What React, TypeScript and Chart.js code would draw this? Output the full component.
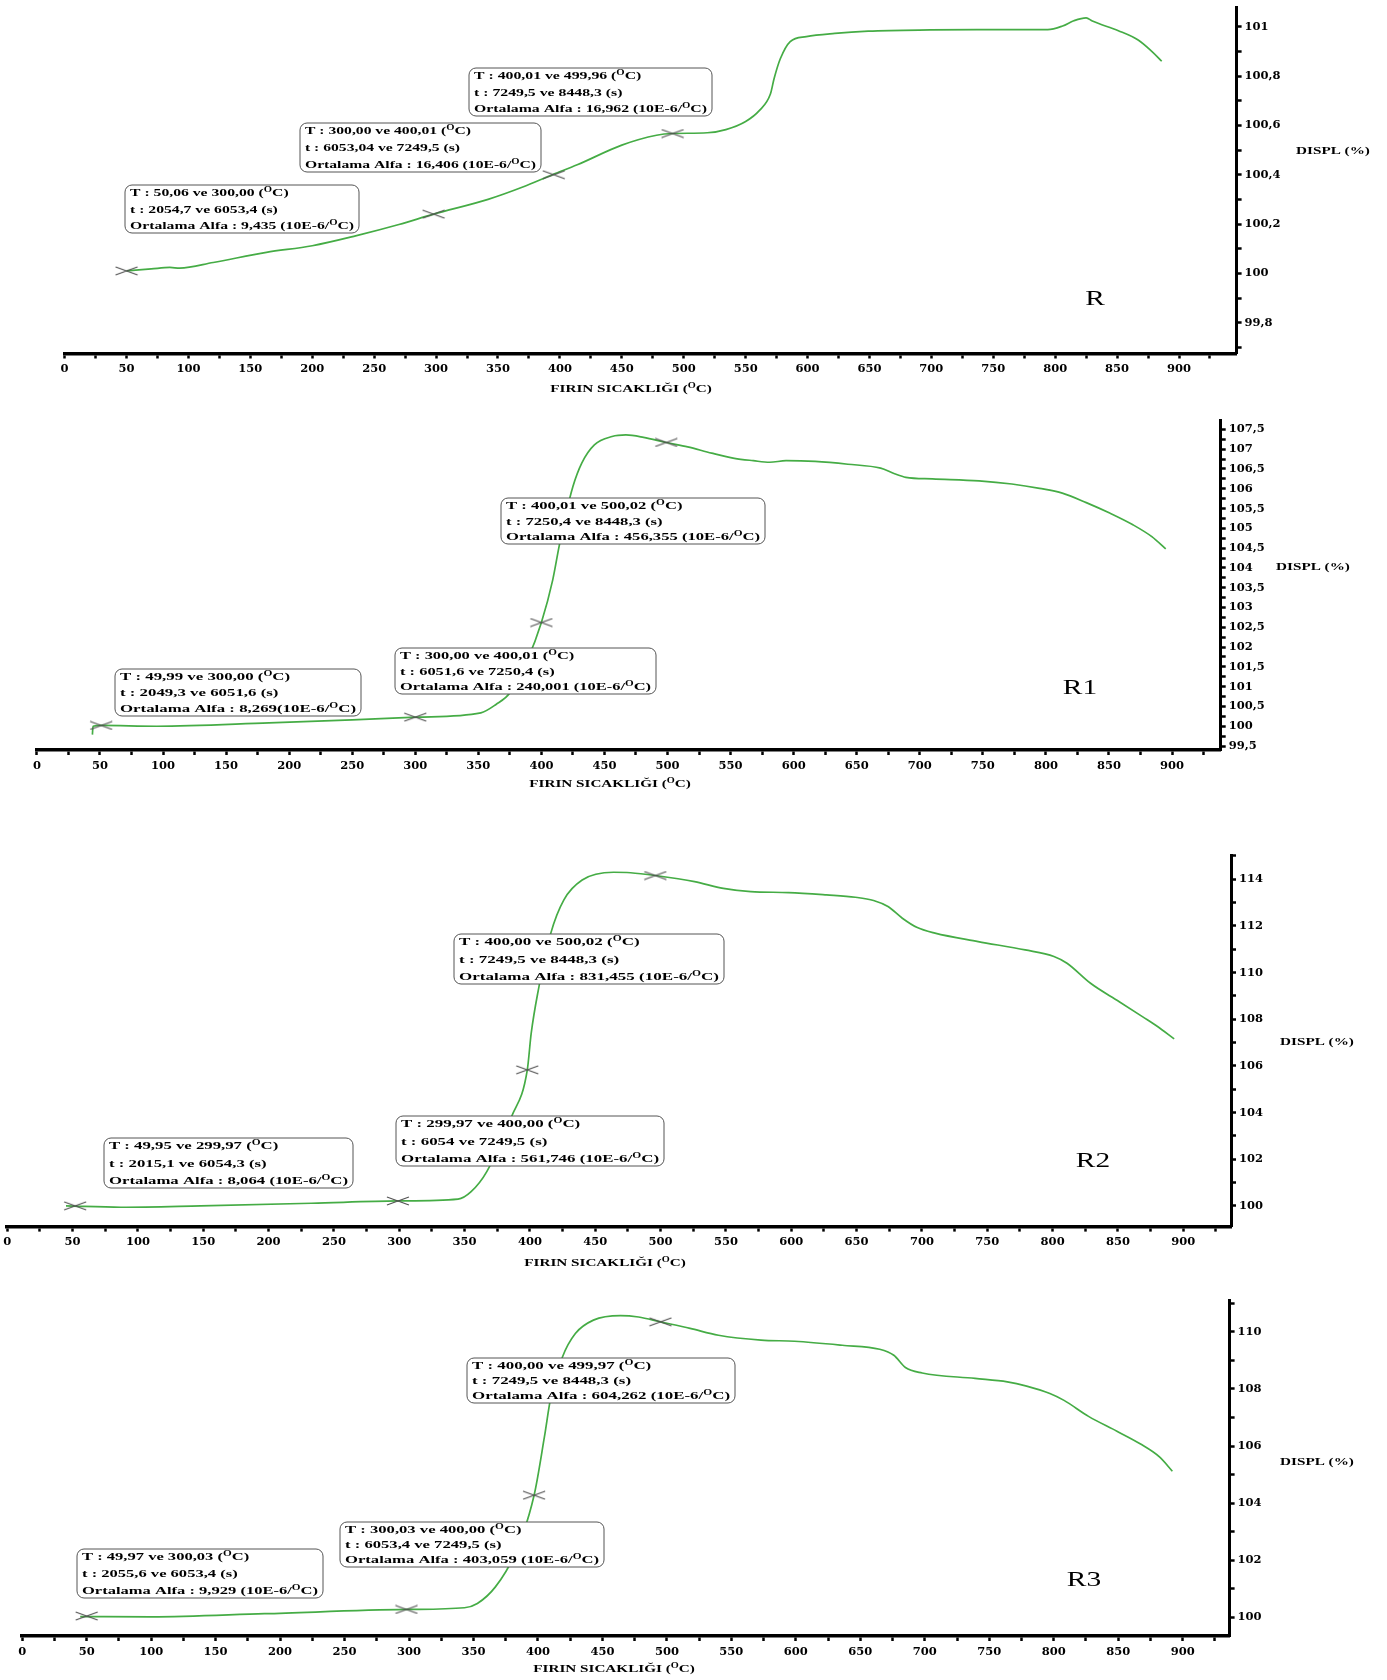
import React, { useEffect, useRef } from 'react';
import { Chart, registerables } from 'chart.js';

Chart.register(...registerables);

// ---------------- DATA ----------------
// Panel R
const tempR = [50, 70, 85, 93, 120, 163, 200, 235, 270, 298, 342, 370, 394, 414, 450, 478, 491, 519, 534, 550, 561, 570, 573, 578, 586, 599, 622, 649, 699, 737, 794, 806, 815, 825, 830, 851, 867, 878, 886];
const displR = [100.01, 100.018, 100.024, 100.021, 100.044, 100.085, 100.112, 100.152, 100.198, 100.24, 100.3, 100.35, 100.4, 100.44, 100.52, 100.56, 100.567, 100.57, 100.583, 100.616, 100.66, 100.727, 100.79, 100.87, 100.94, 100.96, 100.973, 100.982, 100.987, 100.988, 100.988, 101.003, 101.024, 101.036, 101.023, 100.984, 100.946, 100.9, 100.86];
const markTR = [50, 298, 395, 491];
const markDR = [100.01, 100.24, 100.4, 100.567];
const notesR = [
  ['T : 50,06 ve 300,00 ({O}C)', 't : 2054,7 ve 6053,4 (s)', 'Ortalama Alfa : 9,435 (10E-6/{O}C)'],
  ['T : 300,00 ve 400,01 ({O}C)', 't : 6053,04 ve 7249,5 (s)', 'Ortalama Alfa : 16,406 (10E-6/{O}C)'],
  ['T : 400,01 ve 499,96 ({O}C)', 't : 7249,5 ve 8448,3 (s)', 'Ortalama Alfa : 16,962 (10E-6/{O}C)'],
];

// Panel R1
const tempR1 = [44, 44.5, 51, 95, 184, 250, 301, 352, 364, 375, 389, 400, 409, 414, 419, 425, 432, 442, 456, 467, 481, 499, 516, 535, 553, 568, 581, 594, 617, 643, 669, 680, 689, 710, 747, 773, 795, 813, 832, 851, 869, 884, 895];
const displR1 = [99.79, 100.0, 100.02, 100.0, 100.085, 100.16, 100.23, 100.34, 100.55, 100.84, 101.68, 102.62, 103.7, 104.54, 105.3, 106.06, 106.65, 107.11, 107.32, 107.36, 107.3, 107.17, 107.06, 106.9, 106.77, 106.71, 106.67, 106.71, 106.69, 106.62, 106.52, 106.38, 106.29, 106.25, 106.2, 106.12, 106.01, 105.89, 105.65, 105.38, 105.09, 104.79, 104.48];
const markTR1 = [51, 300, 400, 499];
const markDR1 = [100.02, 100.23, 102.62, 107.17];
const notesR1 = [
  ['T : 49,99 ve 300,00 ({O}C)', 't : 2049,3 ve 6051,6 (s)', 'Ortalama Alfa : 8,269(10E-6/{O}C)'],
  ['T : 300,00 ve 400,01 ({O}C)', 't : 6051,6 ve 7250,4 (s)', 'Ortalama Alfa : 240,001 (10E-6/{O}C)'],
  ['T : 400,01 ve 500,02 ({O}C)', 't : 7250,4 ve 8448,3 (s)', 'Ortalama Alfa : 456,355 (10E-6/{O}C)'],
];

// Panel R2
const tempR2 = [45, 87, 148, 233, 299, 345, 355, 367, 386, 398, 401, 406, 416, 426, 440, 464, 477, 496, 526, 548, 569, 598, 627, 649, 663, 674, 685, 696, 710, 743, 779, 801, 811, 829, 851, 869, 880, 893];
const displR2 = [100.0, 99.94, 100.0, 100.11, 100.21, 100.29, 100.61, 101.47, 103.83, 105.83, 107.4, 109.12, 111.69, 113.12, 113.97, 114.3, 114.28, 114.16, 113.9, 113.61, 113.47, 113.43, 113.33, 113.23, 113.09, 112.83, 112.33, 111.94, 111.69, 111.33, 110.97, 110.69, 110.4, 109.54, 108.75, 108.1, 107.7, 107.16];
const markTR2 = [52, 299, 398, 496];
const markDR2 = [100.0, 100.21, 105.83, 114.16];
const notesR2 = [
  ['T : 49,95 ve 299,97 ({O}C)', 't : 2015,1 ve 6054,3 (s)', 'Ortalama Alfa : 8,064 (10E-6/{O}C)'],
  ['T : 299,97 ve 400,00 ({O}C)', 't : 6054 ve 7249,5 (s)', 'Ortalama Alfa : 561,746 (10E-6/{O}C)'],
  ['T : 400,00 ve 500,02 ({O}C)', 't : 7249,5 ve 8448,3 (s)', 'Ortalama Alfa : 831,455 (10E-6/{O}C)'],
];

// Panel R3
const tempR3 = [45, 100, 188, 298, 343, 353, 367, 381, 397, 405, 410, 419, 429, 443, 464, 478, 495, 518, 540, 573, 599, 636, 665, 676, 685, 698, 739, 764, 779, 797, 808, 827, 849, 867, 882, 892];
const displR3 = [100.03, 100.02, 100.13, 100.28, 100.34, 100.49, 101.07, 102.12, 104.28, 106.32, 107.72, 109.12, 109.94, 110.41, 110.57, 110.52, 110.35, 110.12, 109.88, 109.71, 109.67, 109.53, 109.39, 109.18, 108.75, 108.56, 108.37, 108.25, 108.1, 107.84, 107.6, 107.04, 106.52, 106.08, 105.62, 105.12];
const markTR3 = [50, 298, 397, 495];
const markDR3 = [100.05, 100.28, 104.28, 110.35];
const notesR3 = [
  ['T : 49,97 ve 300,03 ({O}C)', 't : 2055,6 ve 6053,4 (s)', 'Ortalama Alfa : 9,929 (10E-6/{O}C)'],
  ['T : 300,03 ve 400,00 ({O}C)', 't : 6053,4 ve 7249,5 (s)', 'Ortalama Alfa : 403,059 (10E-6/{O}C)'],
  ['T : 400,00 ve 499,97 ({O}C)', 't : 7249,5 ve 8448,3 (s)', 'Ortalama Alfa : 604,262 (10E-6/{O}C)'],
];

const sampleNames = ['R', 'R1', 'R2', 'R3'];
const xTitle = 'FIRIN SICAKLIĞI ({O}C)';
const yTitle = 'DISPL (%)';

// ---------------- LAYOUT / STYLE ----------------
const PAGE_W = 1387;
const GREEN = '#45ac45';
const SERIF = '"Liberation Serif", "Times New Roman", serif';
const STRETCH = 1.38;
const TICK_FONT = { family: '"DejaVu Serif", serif', size: 11.5, weight: 'bold' as const };
const Y_W = 60;
const X_H = 30;

type Box = [number, number, number, number];
type PanelCfg = {
  name: string; top: number; height: number;
  area: { left: number; right: number; top: number; bottom: number };
  xMax: number; yMin: number; yMax: number; yMinor: number; yMajor: number;
  temp: number[]; displ: number[]; markT: number[]; markD: number[]; notes: string[][];
  boxes: Box[]; namePos: [number, number]; displPos: [number, number]; titlePos: [number, number];
};

const PANELS: PanelCfg[] = [
  {
    name: sampleNames[0], top: 0, height: 400,
    area: { left: 64.6, right: 1236.6, top: 5, bottom: 353.5 },
    xMax: 946.5, yMin: 99.675, yMax: 101.08, yMinor: 0.1, yMajor: 0.2,
    temp: tempR, displ: displR, markT: markTR, markD: markDR, notes: notesR,
    boxes: [[125, 185, 359, 233], [300, 123, 541, 172], [469, 68, 712, 116]],
    namePos: [1095, 298], displPos: [1333, 150], titlePos: [631, 388],
  },
  {
    name: sampleNames[1], top: 400, height: 405,
    area: { left: 36.9, right: 1220.7, top: 420.7, bottom: 750 },
    xMax: 938.6, yMin: 99.4, yMax: 107.72, yMinor: 0.25, yMajor: 0.5,
    temp: tempR1, displ: displR1, markT: markTR1, markD: markDR1, notes: notesR1,
    boxes: [[115, 669, 361, 716], [395, 648, 656, 694], [501, 498, 765, 544]],
    namePos: [1080, 687], displPos: [1313, 566], titlePos: [610, 783],
  },
  {
    name: sampleNames[2], top: 820, height: 455,
    area: { left: 7.2, right: 1231, top: 855, bottom: 1226.6 },
    xMax: 936.5, yMin: 99.11, yMax: 115.04, yMinor: 1, yMajor: 2,
    temp: tempR2, displ: displR2, markT: markTR2, markD: markDR2, notes: notesR2,
    boxes: [[104, 1138, 353, 1188], [396, 1116, 664, 1166], [454, 934, 724, 984]],
    namePos: [1093, 1160], displPos: [1317, 1041], titlePos: [605, 1262],
  },
  {
    name: sampleNames[3], top: 1275, height: 405,
    area: { left: 22.2, right: 1229.6, top: 1300.7, bottom: 1636 },
    xMax: 936.4, yMin: 99.35, yMax: 111.09, yMinor: 1, yMajor: 2,
    temp: tempR3, displ: displR3, markT: markTR3, markD: markDR3, notes: notesR3,
    boxes: [[77, 1549, 323, 1598], [340, 1522, 604, 1567], [467, 1358, 735, 1403]],
    namePos: [1084, 1579], displPos: [1317, 1461], titlePos: [614, 1668],
  },
];

const fmt = (v: number, major: number) => {
  const r = v / major;
  if (Math.abs(r - Math.round(r)) > 1e-6) return '';
  return String(Math.round(v * 100) / 100).replace('.', ',');
};

function richWidth(ctx: CanvasRenderingContext2D, text: string, size: number, weight: string) {
  const parts = text.split('{O}');
  let w = 0;
  parts.forEach((p, i) => {
    ctx.font = `${weight} ${size}px ${SERIF}`;
    w += ctx.measureText(p).width;
    if (i < parts.length - 1) {
      ctx.font = `${weight} ${size * 0.68}px ${SERIF}`;
      w += ctx.measureText('O').width;
    }
  });
  return w;
}

function drawRich(ctx: CanvasRenderingContext2D, text: string, x: number, y: number, size: number, weight: string, sx: number, align: 'left' | 'center') {
  const w = richWidth(ctx, text, size, weight);
  ctx.save();
  ctx.translate(x, y);
  ctx.scale(sx, 1);
  ctx.fillStyle = '#000';
  ctx.textBaseline = 'alphabetic';
  ctx.textAlign = 'left';
  let cx = align === 'center' ? -w / 2 : 0;
  const base = size * 0.33;
  const parts = text.split('{O}');
  parts.forEach((p, i) => {
    ctx.font = `${weight} ${size}px ${SERIF}`;
    ctx.fillText(p, cx, base);
    cx += ctx.measureText(p).width;
    if (i < parts.length - 1) {
      ctx.font = `${weight} ${size * 0.68}px ${SERIF}`;
      ctx.fillText('O', cx, base - size * 0.36);
      cx += ctx.measureText('O').width;
    }
  });
  ctx.restore();
}

function PanelChart({ cfg }: { cfg: PanelCfg }) {
  const ref = useRef<HTMLCanvasElement>(null);
  useEffect(() => {
    const canvas = ref.current;
    if (!canvas) return;
    const marker = document.createElement('canvas');
    marker.width = 24;
    marker.height = 10;
    const mctx = marker.getContext('2d')!;
    mctx.strokeStyle = '#505050';
    mctx.lineWidth = 1.1;
    mctx.beginPath();
    mctx.moveTo(1, 1); mctx.lineTo(23, 9);
    mctx.moveTo(1, 9); mctx.lineTo(23, 1);
    mctx.stroke();

    const a = cfg.area;
    const off = cfg.top;
    const textPlugin = {
      id: 'panelText',
      afterDraw(chart: any) {
        const ctx: CanvasRenderingContext2D = chart.ctx;
        cfg.boxes.forEach((b, bi) => {
          const [x0, y0p, x1, y1p] = b;
          const y0 = y0p - off, y1 = y1p - off;
          ctx.save();
          ctx.beginPath();
          (ctx as any).roundRect(x0, y0, x1 - x0, y1 - y0, 7);
          ctx.fillStyle = '#fff';
          ctx.fill();
          ctx.strokeStyle = '#555';
          ctx.lineWidth = 1;
          ctx.stroke();
          ctx.restore();
          const lines = cfg.notes[bi];
          const size = 10.8;
          const maxW = Math.max(...lines.map((l) => richWidth(ctx, l, size, 'bold')));
          const sx = (x1 - x0 - 10) / maxW;
          const h = y1 - y0;
          lines.forEach((l, i) => {
            drawRich(ctx, l, x0 + 5, y0 + 7.5 + (i * (h - 15)) / 2, size, 'bold', sx, 'left');
          });
        });
        drawRich(ctx, cfg.name, cfg.namePos[0], cfg.namePos[1] - off, 21, 'normal', 1.4, 'center');
        drawRich(ctx, yTitle, cfg.displPos[0], cfg.displPos[1] - off, 11, 'bold', STRETCH, 'center');
        drawRich(ctx, xTitle, cfg.titlePos[0], cfg.titlePos[1] - off, 11, 'bold', STRETCH, 'center');
      },
    };

    const chart = new Chart(canvas, {
      type: 'line',
      data: {
        datasets: [
          {
            data: cfg.markT.map((t, i) => ({ x: t, y: cfg.markD[i] })),
            showLine: false,
            pointStyle: marker as any,
            pointRadius: 6,
            borderColor: 'transparent',
            backgroundColor: 'transparent',
          },
          {
            data: cfg.temp.map((t, i) => ({ x: t, y: cfg.displ[i] })),
            borderColor: GREEN,
            borderWidth: 1.7,
            pointRadius: 0,
            cubicInterpolationMode: 'monotone',
            fill: false,
          },
        ],
      },
      options: {
        responsive: false,
        animation: false,
        events: [],
        layout: {
          padding: {
            left: a.left,
            top: a.top - off,
            right: PAGE_W - a.right - Y_W,
            bottom: cfg.height - (a.bottom - off) - X_H,
          },
        },
        plugins: { legend: { display: false }, tooltip: { enabled: false }, title: { display: false } },
        scales: {
          x: {
            type: 'linear',
            position: 'bottom',
            min: 0,
            max: cfg.xMax,
            afterFit: (s: any) => { s.height = X_H; s.paddingLeft = 0; s.paddingRight = 0; },
            ticks: {
              stepSize: 25, autoSkip: false, maxRotation: 0, minRotation: 0, includeBounds: false,
              padding: 4, color: '#000', font: TICK_FONT,
              callback: (v: any) => fmt(Number(v), 50),
            },
            grid: { drawOnChartArea: false, drawTicks: true, tickLength: 5, tickWidth: 2.5, tickColor: '#000' },
            border: { display: true, color: '#000', width: 3.5 },
          },
          y: {
            type: 'linear',
            position: 'right',
            min: cfg.yMin,
            max: cfg.yMax,
            afterFit: (s: any) => { s.width = Y_W; s.paddingTop = 0; s.paddingBottom = 0; },
            ticks: {
              stepSize: cfg.yMinor, autoSkip: false, includeBounds: false,
              padding: 3, color: '#000', font: TICK_FONT,
              callback: (v: any) => fmt(Number(v), cfg.yMajor),
            },
            grid: { drawOnChartArea: false, drawTicks: true, tickLength: 5, tickWidth: 2.5, tickColor: '#000' },
            border: { display: true, color: '#000', width: 3 },
          },
        },
      } as any,
      plugins: [textPlugin],
    });
    return () => chart.destroy();
  }, [cfg]);
  return (
    <canvas
      ref={ref}
      width={PAGE_W}
      height={cfg.height}
      style={{ position: 'absolute', left: 0, top: cfg.top, width: PAGE_W, height: cfg.height }}
    />
  );
}

export default function App() {
  return (
    <div style={{ position: 'absolute', left: 0, top: 0, width: PAGE_W, height: 1680, background: '#fff', overflow: 'hidden' }}>
      {PANELS.map((p) => (
        <PanelChart key={p.name} cfg={p} />
      ))}
    </div>
  );
}
